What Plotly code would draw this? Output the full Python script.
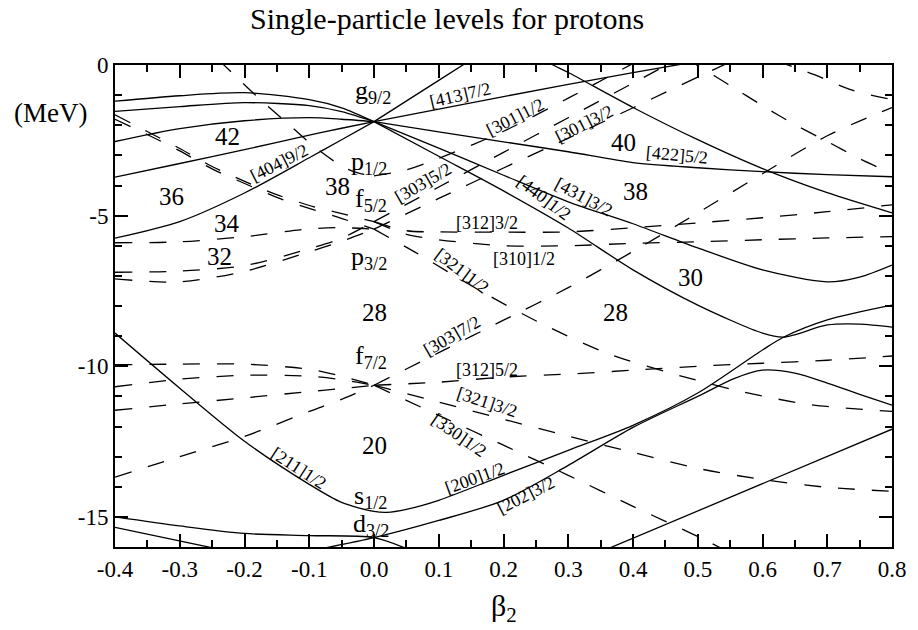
import plotly.graph_objects as go

# ---------------- data (beta2, energy in MeV) ----------------
# solid lines (positive parity)
b_obl = [-0.4, -0.3, -0.2, -0.1, -0.05, 0.0]
e_g_a = [-1.20, -1.02, -0.92, -1.15, -1.42, -1.88]
e_g_b = [-1.54, -1.38, -1.25, -1.35, -1.55, -1.88]
e_g_c = [-2.54, -2.11, -1.85, -1.75, -1.80, -1.88]
e_g_d = [-3.72, -3.27, -2.81, -2.33, -2.10, -1.88]
e_g_e = [-5.75, -5.20, -4.25, -3.08, -2.48, -1.88]

b_404 = [0.0, 0.1, 0.2]
e_404 = [-1.88, -0.51, 0.86]
b_413 = [0.0, 0.2, 0.4, 0.5]
e_413 = [-1.88, -1.05, -0.25, 0.12]
b_pro = [0.0, 0.1, 0.2, 0.3, 0.4, 0.5, 0.6, 0.7, 0.8]
e_422 = [-1.88, -2.22, -2.55, -2.88, -3.24, -3.41, -3.54, -3.64, -3.71]
b_431 = [0.0, 0.1, 0.2, 0.3, 0.4, 0.5, 0.6, 0.7, 0.75, 0.8]
e_431 = [-1.88, -2.76, -3.66, -4.54, -5.27, -6.07, -6.8, -7.2, -7.04, -6.64]
b_440 = [0.0, 0.1, 0.2, 0.3, 0.4, 0.5, 0.6, 0.633, 0.7, 0.75, 0.8]
e_440 = [-1.88, -3.03, -4.18, -5.41, -6.8, -7.97, -8.9, -9.03, -8.63, -8.6, -8.7]
b_hi = [0.25, 0.2766, 0.3, 0.4, 0.5, 0.6, 0.7, 0.8]
e_hi = [0.35, 0.0, -0.25, -1.41, -2.48, -3.44, -4.24, -4.91]

b_s12 = [-0.4, -0.3, -0.2, -0.1, -0.05, 0.0, 0.02, 0.05, 0.1, 0.2, 0.3, 0.4, 0.5, 0.6, 0.633, 0.7, 0.8]
e_s12 = [-8.9, -10.73, -12.49, -13.92, -14.52, -14.82, -14.85, -14.75, -14.45, -13.62, -12.79,
         -11.96, -10.89, -9.46, -9.03, -8.46, -7.97]
b_202 = [-0.08, 0.0, 0.1, 0.2, 0.3, 0.4, 0.5, 0.557, 0.6, 0.65, 0.7, 0.75, 0.8]
e_202 = [-16.05, -15.69, -15.12, -14.45, -13.29, -12.03, -11.0, -10.4, -10.13, -10.23, -10.56, -10.93, -11.29]
b_d1 = [-0.4, -0.3, -0.2, -0.1, 0.0, 0.05]
e_d1 = [-15.0, -15.3, -15.55, -15.62, -15.69, -16.05]
b_d2 = [-0.4, -0.24]
e_d2 = [-15.35, -16.07]
b_low = [0.35, 0.8]
e_low = [-16.16, -12.09]

# dashed lines (negative parity)
b_p12o = [-0.24, -0.18, -0.135, -0.094, -0.048, -0.025, 0.0]
e_p12o = [0.17, -1.06, -1.91, -2.68, -3.38, -3.58, -3.68]
b_301a = [0.0, 0.05, 0.1, 0.2, 0.3, 0.4]
e_301a = [-3.68, -3.48, -3.1, -2.2, -1.1, 0.05]

b_up = [-0.4, -0.351, -0.3, -0.25, -0.198, -0.147, -0.094, -0.056, 0.0]
e_up1 = [-1.65, -2.2, -2.77, -3.37, -3.88, -4.33, -4.7, -4.9, -5.2]
e_up2 = [-1.8, -2.3, -2.85, -3.45, -3.95, -4.42, -4.8, -5.05, -5.45]
e_34 = [-5.9, -5.87, -5.7, -5.44, -5.4, -5.45]
e_32a = [-6.88, -6.84, -6.66, -6.1, -5.75, -5.2]
e_32b = [-7.1, -7.2, -6.85, -6.2, -5.85, -5.45]

b_303b = [0.0, 0.1, 0.2, 0.3, 0.4, 0.5]
e_303b = [-5.2, -4.05, -2.9, -1.75, -0.6, 0.55]
b_301b = [0.0, 0.1, 0.2, 0.3, 0.4, 0.5, 0.6]
e_301b = [-5.45, -4.43, -3.42, -2.43, -1.42, -0.4, 0.6]
b_f = [0.0, 0.05, 0.1, 0.2, 0.3, 0.4, 0.5, 0.6, 0.7, 0.8]
e_312a = [-5.2, -5.5, -5.54, -5.55, -5.54, -5.4, -5.24, -5.07, -4.87, -4.64]
e_310 = [-5.2, -5.62, -5.8, -6.0, -6.0, -5.92, -5.87, -5.8, -5.74, -5.7]
b_321a = [0.0, 0.064, 0.166, 0.263, 0.365, 0.462, 0.569, 0.676, 0.8]
e_321a = [-5.45, -6.22, -7.52, -8.63, -9.61, -10.25, -10.85, -11.28, -11.5]

e_303o = [-13.68, -13.0, -12.33, -11.5, -11.1, -10.63]
e_303p = [-10.63, -9.55, -8.47, -7.39, -6.19, -4.91, -3.61, -2.35, -1.41]
e_f1 = [-9.95, -9.93, -9.93, -10.1, -10.33, -10.63]
e_f2 = [-10.68, -10.43, -10.3, -10.33, -10.45, -10.63]
e_f3 = [-11.46, -11.25, -11.05, -10.84, -10.74, -10.63]
e_312b = [-10.63, -10.53, -10.36, -10.26, -10.13, -10.0, -9.9, -9.8, -9.66]
e_321b = [-10.63, -11.19, -11.76, -12.32, -12.86, -13.39, -13.76, -14.02, -14.15]
b_330 = [0.0, 0.1, 0.2, 0.3, 0.4, 0.5, 0.56]
e_330 = [-10.63, -11.63, -12.62, -13.62, -14.65, -15.65, -16.3]
b_q1 = [0.48, 0.5, 0.55, 0.6, 0.65, 0.7, 0.75, 0.8]
e_q1 = [0.25, -0.02, -0.68, -1.35, -1.98, -2.54, -3.11, -3.61]
b_q2 = [0.62, 0.68, 0.736, 0.8]
e_q2 = [0.15, -0.32, -0.82, -1.15]

solid_curves = [
    (b_obl, e_g_a), (b_obl, e_g_b), (b_obl, e_g_c), (b_obl, e_g_d), (b_obl, e_g_e),
    (b_404, e_404), (b_413, e_413), (b_pro, e_422), (b_431, e_431), (b_440, e_440),
    (b_hi, e_hi), (b_s12, e_s12), (b_202, e_202), (b_d1, e_d1), (b_d2, e_d2), (b_low, e_low),
]
dashed_curves = [
    (b_p12o, e_p12o), (b_301a, e_301a), (b_up, e_up1), (b_up, e_up2),
    (b_obl, e_34), (b_obl, e_32a), (b_obl, e_32b),
    (b_303b, e_303b), (b_301b, e_301b), (b_f, e_312a), (b_f, e_310), (b_321a, e_321a),
    (b_obl, e_303o), (b_pro, e_303p), (b_obl, e_f1), (b_obl, e_f2), (b_obl, e_f3),
    (b_pro, e_312b), (b_pro, e_321b), (b_330, e_330), (b_q1, e_q1), (b_q2, e_q2),
]

# labels
magic_text = ["42", "36", "38", "34", "32", "28", "28", "40", "38", "30", "20"]
magic_b = [-0.227, -0.313, -0.056, -0.227, -0.238, 0.0015, 0.373, 0.385, 0.404, 0.489, 0.0015]
magic_e = [-2.38, -4.37, -4.04, -5.27, -6.37, -8.2, -8.23, -2.58, -4.21, -7.07, -12.62]

sph_text = ["g<sub>9/2</sub>", "p<sub>1/2</sub>", "f<sub>5/2</sub>", "p<sub>3/2</sub>",
            "f<sub>7/2</sub>", "s<sub>1/2</sub>", "d<sub>3/2</sub>"]
sph_b = [-0.002, -0.007, -0.004, -0.007, -0.005, -0.005, -0.005]
sph_e = [-0.91, -3.24, -4.47, -6.4, -9.7, -14.35, -15.28]

orb_text = ["[404]9/2", "[413]7/2", "[301]1/2", "[301]3/2", "[303]5/2", "[440]1/2", "[431]3/2",
            "[422]5/2", "[312]3/2", "[310]1/2", "[321]1/2", "[303]7/2", "[312]5/2", "[321]3/2",
            "[330]1/2", "[211]1/2", "[200]1/2", "[202]3/2"]
orb_b = [-0.147, 0.133, 0.218, 0.324, 0.075, 0.263, 0.324, 0.468, 0.174, 0.232, 0.136, 0.120,
         0.174, 0.174, 0.131, -0.117, 0.156, 0.235]
orb_e = [-3.24, -0.98, -1.71, -1.95, -3.91, -4.41, -4.37, -2.98, -5.24, -6.44, -6.84, -9.0,
         -10.13, -11.2, -12.29, -13.39, -13.72, -14.29]
orb_angle = [-27, -13, -27, -27, -30, 37, 28, 5, 0, 0, 37, -30, 0, 18, 35, 33, -20, -27]

x_tick_vals = [-0.4, -0.3, -0.2, -0.1, 0.0, 0.1, 0.2, 0.3, 0.4, 0.5, 0.6, 0.7, 0.8]
x_tick_text = ["-0.4", "-0.3", "-0.2", "-0.1", "0.0", "0.1", "0.2", "0.3", "0.4", "0.5", "0.6", "0.7", "0.8"]
y_tick_vals = [0, -5, -10, -15]
y_tick_text = ["0", "-5", "-10", "-15"]

# ---------------- figure ----------------
FONT = "Liberation Serif, Times New Roman, serif"
fig = go.Figure()
for bx, ey in solid_curves:
    fig.add_trace(go.Scatter(x=bx, y=ey, mode="lines",
                             line=dict(color="black", width=1.3, shape="spline", smoothing=0.8),
                             hoverinfo="skip", showlegend=False))
for bx, ey in dashed_curves:
    fig.add_trace(go.Scatter(x=bx, y=ey, mode="lines",
                             line=dict(color="black", width=1.3, dash="17px,17px",
                                       shape="spline", smoothing=0.8),
                             hoverinfo="skip", showlegend=False))

for t, bx, ey in zip(magic_text, magic_b, magic_e):
    fig.add_annotation(x=bx, y=ey, text=t, showarrow=False, xanchor="center", yanchor="middle",
                       font=dict(family=FONT, size=25, color="black"))
for t, bx, ey in zip(sph_text, sph_b, sph_e):
    fig.add_annotation(x=bx, y=ey, text=t, showarrow=False, xanchor="center", yanchor="middle",
                       font=dict(family=FONT, size=26, color="black"))
for t, bx, ey, a in zip(orb_text, orb_b, orb_e, orb_angle):
    fig.add_annotation(x=bx, y=ey, text=t, showarrow=False, textangle=a,
                       xanchor="center", yanchor="middle",
                       font=dict(family=FONT, size=18, color="black"))

fig.add_annotation(xref="paper", yref="paper", x=0.427, y=1.097, text="Single-particle levels for protons",
                   showarrow=False, xanchor="center", yanchor="middle",
                   font=dict(family=FONT, size=30, color="black"))
fig.add_annotation(xref="paper", yref="paper", x=-0.083, y=0.901, text="(MeV)",
                   showarrow=False, xanchor="center", yanchor="middle",
                   font=dict(family=FONT, size=27, color="black"))
fig.add_annotation(xref="paper", yref="paper", x=0.5, y=-0.127, text="β<sub>2</sub>",
                   showarrow=False, xanchor="center", yanchor="middle",
                   font=dict(family=FONT, size=30, color="black"))

axis_common = dict(showline=True, linecolor="black", linewidth=2, mirror="allticks",
                   ticks="inside", tickcolor="black", tickwidth=1.5, ticklen=13,
                   showgrid=False, zeroline=False,
                   tickfont=dict(family=FONT, size=23, color="black"))
fig.update_xaxes(range=[-0.4, 0.8], tickvals=x_tick_vals, ticktext=x_tick_text,
                 minor=dict(ticks="inside", ticklen=7, tickwidth=1.5, tickcolor="black",
                            dtick=0.05, tick0=0.0, showgrid=False),
                 **axis_common)
fig.update_yaxes(range=[-16, 0], tickvals=y_tick_vals, ticktext=y_tick_text,
                 minor=dict(ticks="inside", ticklen=7, tickwidth=1.5, tickcolor="black",
                            dtick=1, tick0=0, showgrid=False),
                 **axis_common)
fig.update_layout(width=918, height=630, margin=dict(l=115, r=19, t=65, b=83),
                  plot_bgcolor="white", paper_bgcolor="white", showlegend=False)
fig.write_html("out.html")
